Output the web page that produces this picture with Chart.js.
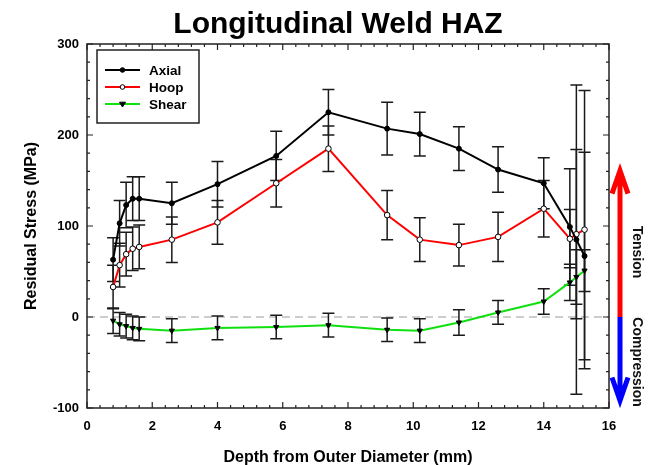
<!DOCTYPE html>
<html>
<head>
<meta charset="utf-8">
<script src="https://cdn.jsdelivr.net/npm/chart.js@4.4.1/dist/chart.umd.min.js"></script>
<style>
  html, body { margin: 0; padding: 0; background: #fff; }
  #wrap { width: 650px; height: 465px; }
</style>
</head>
<body>
<div id="wrap"><canvas id="chart" width="650" height="465"></canvas></div>
<script>
// depth from outer diameter (mm)
const depth = [0.8, 1.0, 1.2, 1.4, 1.6, 2.6, 4.0, 5.8, 7.4, 9.2, 10.2, 11.4, 12.6, 14.0, 14.8, 15.0, 15.25];

// residual stress (MPa) and +/- error
const axial    = [63, 103, 123, 130, 130, 125, 146, 177, 225, 207, 201, 185, 162, 147, 99, 85, 67];
const axialErr = [24, 25, 25, 24, 24, 23, 25, 27, 25, 29, 24, 24, 25, 28, 64, 170, 114];
const hoop     = [33, 57, 69, 75, 77, 85, 104, 147, 185, 112, 85, 79, 88, 119, 86, 91, 96];
const hoopErr  = [24, 24, 24, 24, 24, 25, 24, 26, 25, 27, 24, 23, 27, 31, 32, 93, 153];
const shear    = [-4, -8, -10, -12, -13, -15, -12, -11, -9, -14, -15, -6, 5, 17, 38, 44, 51];
const shearErr = [14, 13, 13, 13, 13, 13, 13, 13, 13, 13, 13, 14, 13, 14, 20, 30, 23];

const seriesNames = ['Axial', 'Hoop', 'Shear'];
const xTicks = [0, 2, 4, 6, 8, 10, 12, 14, 16];
const yTicks = [-100, 0, 100, 200, 300];

const FONT = 'Arial, "Liberation Sans", sans-serif';

function pts(vals) {
    return depth.map((d, i) => ({ x: d, y: vals[i] }));
}

const styles = [
    { color: '#000000', point: 'circle', fill: '#000000', radius: 2.5 },
    { color: '#ff0000', point: 'circle', fill: '#ffffff', radius: 2.8 },
    { color: '#10e010', point: 'triangle', fill: '#000000', radius: 3, rotation: 180 }
];

const decor = {
    id: 'decor',
    beforeDatasetsDraw(chart) {
        const { ctx, chartArea: a, scales: { x, y } } = chart;
        ctx.save();
        // zero line
        const y0 = y.getPixelForValue(0);
        ctx.strokeStyle = '#9a9a9a';
        ctx.lineWidth = 1;
        ctx.setLineDash([8, 5]);
        ctx.beginPath();
        ctx.moveTo(a.left, y0);
        ctx.lineTo(a.right, y0);
        ctx.stroke();
        ctx.setLineDash([]);

        // error bars
        ctx.strokeStyle = '#1a1a1a';
        ctx.lineWidth = 1.5;
        [[axial, axialErr], [hoop, hoopErr], [shear, shearErr]].forEach(([v, e]) => {
            depth.forEach((d, i) => {
                const px = x.getPixelForValue(d);
                const top = y.getPixelForValue(v[i] + e[i]);
                const bot = y.getPixelForValue(v[i] - e[i]);
                ctx.beginPath();
                ctx.moveTo(px, top); ctx.lineTo(px, bot);
                ctx.moveTo(px - 6, top); ctx.lineTo(px + 6, top);
                ctx.moveTo(px - 6, bot); ctx.lineTo(px + 6, bot);
                ctx.stroke();
            });
        });
        ctx.restore();
    },
    afterDraw(chart) {
        const { ctx, chartArea: a, scales: { x, y } } = chart;
        ctx.save();

        // frame
        ctx.strokeStyle = '#222';
        ctx.lineWidth = 1.5;
        ctx.strokeRect(a.left, a.top, a.right - a.left, a.bottom - a.top);

        // inward ticks, 4 minor between majors
        ctx.lineWidth = 1.2;
        ctx.beginPath();
        for (let k = 0; k <= 40; k++) {
            const px = x.getPixelForValue(k * 0.4);
            const len = k % 5 === 0 ? 6 : 3;
            ctx.moveTo(px, a.bottom); ctx.lineTo(px, a.bottom - len);
            ctx.moveTo(px, a.top); ctx.lineTo(px, a.top + len);
        }
        for (let k = 0; k <= 20; k++) {
            const py = y.getPixelForValue(-100 + k * 20);
            const len = k % 5 === 0 ? 6 : 3;
            ctx.moveTo(a.left, py); ctx.lineTo(a.left + len, py);
            ctx.moveTo(a.right, py); ctx.lineTo(a.right - len, py);
        }
        ctx.stroke();

        // title
        ctx.fillStyle = '#000';
        ctx.textAlign = 'center';
        ctx.textBaseline = 'alphabetic';
        ctx.font = 'bold 30px ' + FONT;
        ctx.fillText('Longitudinal Weld HAZ', 338, 33);

        // axis titles
        ctx.font = 'bold 16px ' + FONT;
        ctx.fillText('Depth from Outer Diameter (mm)', (a.left + a.right) / 2, 462);
        ctx.save();
        ctx.translate(36, (a.top + a.bottom) / 2);
        ctx.rotate(-Math.PI / 2);
        ctx.fillText('Residual Stress (MPa)', 0, 0);
        ctx.restore();

        // legend
        const lx = 97, ly = 50;
        ctx.lineWidth = 1.5;
        ctx.strokeStyle = '#222';
        ctx.strokeRect(lx, ly, 102, 73);
        ctx.font = 'bold 13.5px ' + FONT;
        ctx.textAlign = 'left';
        ctx.textBaseline = 'middle';
        seriesNames.forEach((name, i) => {
            const s = styles[i];
            const ry = ly + 20 + i * 17;
            ctx.strokeStyle = s.color;
            ctx.lineWidth = 2;
            ctx.beginPath();
            ctx.moveTo(lx + 8, ry); ctx.lineTo(lx + 43, ry);
            ctx.stroke();
            ctx.fillStyle = s.fill;
            ctx.strokeStyle = '#000';
            ctx.lineWidth = 1;
            ctx.beginPath();
            if (s.point === 'triangle') {
                const cx = lx + 25.5, r = 3;
                ctx.moveTo(cx - r, ry - r * 0.6);
                ctx.lineTo(cx + r, ry - r * 0.6);
                ctx.lineTo(cx, ry + r);
                ctx.closePath();
            } else {
                ctx.arc(lx + 25.5, ry, 2.3, 0, Math.PI * 2);
            }
            ctx.fill();
            ctx.stroke();
            ctx.fillStyle = '#000';
            ctx.fillText(name, lx + 52, ry + 1);
        });

        // tension / compression arrow
        const ax = 620;
        const yz = y.getPixelForValue(0);
        const yt = y.getPixelForValue(163);
        const yb = y.getPixelForValue(-94);
        ctx.lineWidth = 5;
        ctx.lineCap = 'butt';
        ctx.lineJoin = 'miter';
        ctx.strokeStyle = '#ff0000';
        ctx.beginPath();
        ctx.moveTo(ax, yz); ctx.lineTo(ax, yt + 2);
        ctx.moveTo(ax - 8, yt + 25); ctx.lineTo(ax, yt + 2); ctx.lineTo(ax + 8, yt + 25);
        ctx.stroke();
        ctx.strokeStyle = '#0000ff';
        ctx.beginPath();
        ctx.moveTo(ax, yz); ctx.lineTo(ax, yb - 2);
        ctx.moveTo(ax - 8, yb - 25); ctx.lineTo(ax, yb - 2); ctx.lineTo(ax + 8, yb - 25);
        ctx.stroke();

        ctx.fillStyle = '#111';
        ctx.font = 'bold 14px ' + FONT;
        ctx.textAlign = 'center';
        ctx.textBaseline = 'middle';
        [['Tension', 252], ['Compression', 362]].forEach(([t, cy]) => {
            ctx.save();
            ctx.translate(637, cy);
            ctx.rotate(Math.PI / 2);
            ctx.fillText(t, 0, 0);
            ctx.restore();
        });

        ctx.restore();
    }
};

const datasets = [axial, hoop, shear].map((vals, i) => {
    const s = styles[i];
    return {
        label: seriesNames[i],
        data: pts(vals),
        borderColor: s.color,
        borderWidth: 2,
        pointStyle: s.point,
        pointRotation: s.rotation || 0,
        pointRadius: s.radius,
        pointBackgroundColor: s.fill,
        pointBorderColor: '#000',
        pointBorderWidth: 1,
        tension: 0,
        fill: false
    };
});

new Chart(document.getElementById('chart'), {
    type: 'line',
    data: { datasets },
    plugins: [decor],
    options: {
        responsive: false,
        animation: false,
        devicePixelRatio: 1,
        layout: { padding: { top: 44, right: 41, left: 0, bottom: 0 } },
        plugins: {
            legend: { display: false },
            title: { display: false },
            tooltip: { enabled: false }
        },
        scales: {
            x: {
                type: 'linear',
                min: 0,
                max: 16,
                grid: { display: false, drawTicks: false },
                border: { display: false },
                afterBuildTicks: (s) => { s.ticks = xTicks.map(v => ({ value: v })); },
                afterFit: (s) => { s.height = 57; },
                ticks: {
                    padding: 11,
                    maxRotation: 0,
                    color: '#000',
                    font: { family: FONT, size: 13, weight: 'bold' }
                }
            },
            y: {
                min: -100,
                max: 300,
                grid: { display: false, drawTicks: false },
                border: { display: false },
                afterBuildTicks: (s) => { s.ticks = yTicks.map(v => ({ value: v })); },
                afterFit: (s) => { s.width = 87; },
                ticks: {
                    padding: 8,
                    color: '#000',
                    font: { family: FONT, size: 13, weight: 'bold' }
                }
            }
        }
    }
});
</script>
</body>
</html>
